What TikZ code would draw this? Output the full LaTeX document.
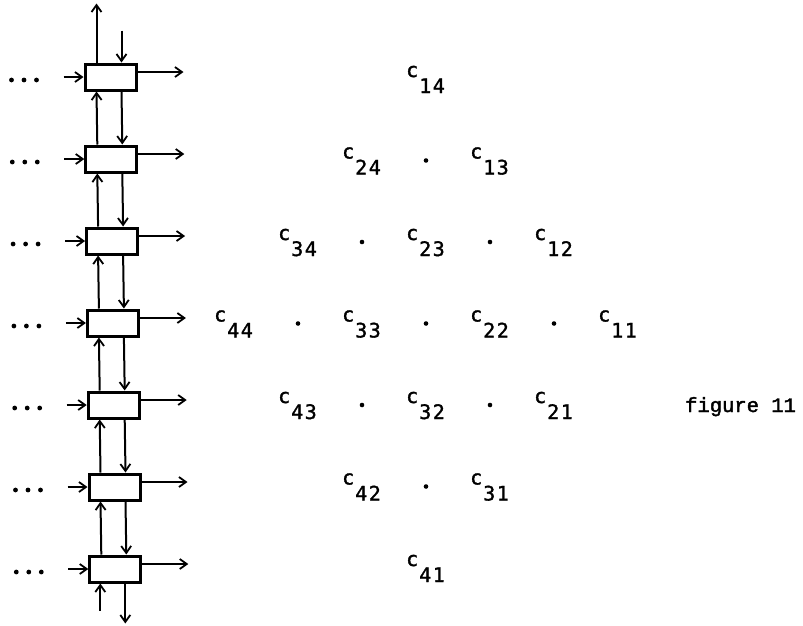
\documentclass[tikz,border=0pt]{standalone}
\usepackage{fontspec}
\newfontfamily\typewriter[FakeBold=2]{Liberation Mono}
\newfontfamily\gothic[FakeBold=1.5]{DejaVu Sans Mono}
\usetikzlibrary{arrows.meta,calc}
\tikzset{
  >={Straight Barb[length=7pt,width=10pt,line width=1.8pt]},
  every node/.style={font=\typewriter\fontsize{20.5}{24}\selectfont},
  cellbox/.style={draw,line width=3pt,minimum width=51pt,minimum height=26pt,inner sep=0pt},
  arrow/.style={->,line width=2pt},
  entry/.style={anchor=base west,inner sep=0pt},
  matentry/.style={entry,font=\gothic\fontsize{20}{24}\selectfont},
}

\begin{document}
\begin{tikzpicture}[x=1pt,y=-1pt]
\useasboundingbox (0,0) rectangle (803,625);

% column of cells with inputs, outputs and dots
\foreach \r in {0,...,6}{
  \node[cellbox] (b\r) at ({110.5+0.8*\r},{77+82*\r}) {};
  \coordinate (in\r) at ($(b\r.west)+(-20,0)$);
  \coordinate (out\r) at ($(b\r.east)+(46,-5)$);
  \draw[arrow] (in\r) -- (b\r.west);
  \draw[arrow] ($(b\r.east)+(0,-5)$) -- (out\r);
  \foreach \d in {0,1,2}{\fill ($(b\r.west)+(-72+12.5*\d,3)$) circle (2.4pt);}
}

% links between neighbouring cells
\foreach \r in {0,...,5}{
  \pgfmathtruncatemacro{\s}{\r+1}
  \draw[arrow] ([xshift=13pt]b\s.north west) -- ([xshift=13pt]b\r.south west);
  \draw[arrow] ([xshift=38pt]b\r.south west) -- ([xshift=38pt]b\s.north west);
}

% free ends at top and bottom
\coordinate (topout) at ($(b0.north west)+(13,-59)$);
\coordinate (topin) at ($(b0.north west)+(38,-32)$);
\coordinate (botin) at ($(b6.south west)+(12,27)$);
\coordinate (botout) at ($(b6.south west)+(37,40)$);
\draw[arrow] ([xshift=13pt]b0.north west) -- (topout);
\draw[arrow] (topin) -- ([xshift=38pt]b0.north west);
\draw[arrow] (botin) -- ([xshift=12pt]b6.south west);
\draw[arrow] ([xshift=37pt]b6.south west) -- (botout);

% matrix entries
\foreach \i/\j/\r in {1/4/0, 2/4/1, 1/3/1, 3/4/2, 2/3/2, 1/2/2, 4/4/3, 3/3/3, 2/2/3, 1/1/3, 4/3/4, 3/2/4, 2/1/4, 4/2/5, 3/1/5, 4/1/6}
  \node[matentry] (c\i\j) at ({214+64*(8-\i-\j)},{93+81.5*\r}) {\raisebox{16pt}{c}\hspace{1pt}\i\hspace{1.5pt}\j};
\foreach \k/\r in {3/1, 2/2, 4/2, 1/3, 3/3, 5/3, 2/4, 4/4, 3/5}
  \fill ({214+64*\k+20},{93+81.5*\r-14}) circle (2.3pt);

\node[entry] (caption) at (685,412) {figure 11};
\end{tikzpicture}
\end{document}
